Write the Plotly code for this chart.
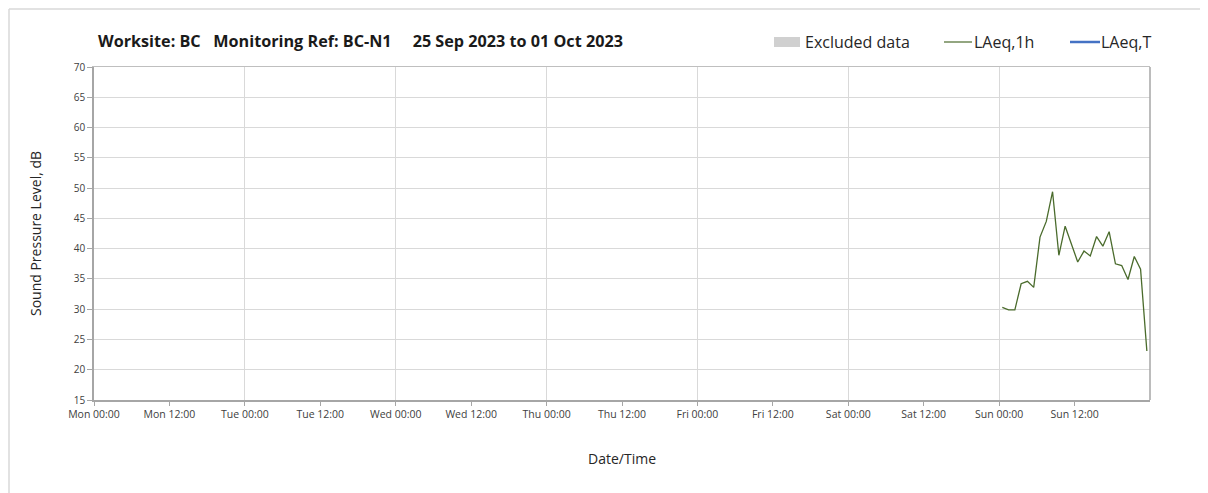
import plotly.graph_objects as go
import pandas as pd

# ---- data ----
hours = [f"2023-10-01 {h:02d}:30" for h in range(24)]
laeq_1h = [30.3, 29.9, 29.9, 34.2, 34.6, 33.6, 41.9, 44.5, 49.4, 38.9, 43.7, 40.6,
           37.8, 39.6, 38.8, 42.0, 40.4, 42.8, 37.5, 37.2, 34.9, 38.7, 36.6, 23.1]
x_start = "2023-09-25 00:00"
x_end = "2023-10-02 00:00"
y_min, y_max, y_step = 15, 70, 5
title_text = "Worksite: BC   Monitoring Ref: BC-N1     25 Sep 2023 to 01 Oct 2023"
legend_labels = ["Excluded data", "LAeq,1h", "LAeq,T"]
x_title = "Date/Time"
y_title = "Sound Pressure Level, dB"

OFF = 8  # page body margin
W, H = 1208, 493
SX0, SX1, SY0, SY1 = 94, 1150, 67, 400
L, T = SX0 - OFF, SY0 - OFF
pw, ph = SX1 - SX0, SY1 - SY0
R = W - L - pw
B = H - T - ph

def px(x):
    return (x - SX0) / pw

def py(y):
    return (SY1 - y) / ph

tickvals = pd.date_range(x_start, periods=14, freq="12h")

fig = go.Figure()
fig.add_trace(go.Scatter(x=pd.to_datetime(hours), y=laeq_1h, mode="lines",
                         line=dict(color="#4a6b2c", width=1.3), showlegend=False,
                         hoverinfo="x+y"))
fig.add_trace(go.Scatter(x=[None], y=[None], mode="lines",
                         line=dict(color="#4472c4", width=2.5), showlegend=False))
fig.add_trace(go.Scatter(x=[None], y=[None], xaxis="x2", showlegend=False))

tickfont = dict(family="Open Sans, DejaVu Sans", size=10, color="#404040")
xtickfont = dict(family="Open Sans, DejaVu Sans", size=10.5, color="#404040")

fig.update_layout(
    width=W, height=H,
    margin=dict(l=L, r=R, t=T, b=B),
    plot_bgcolor="white", paper_bgcolor="white",
    xaxis=dict(type="date", range=[x_start, x_end], tickvals=tickvals,
               tickformat="%a %H:%M", showgrid=False,
               ticks="outside", ticklen=4, tickcolor="#a6a6a6",
               showline=True, linecolor="#a6a6a6", linewidth=1.5,
               tickfont=xtickfont, zeroline=False,
               title=dict(text=x_title, font=dict(family="Open Sans, DejaVu Sans", size=14, color="#262626"),
                          standoff=34)),
    xaxis2=dict(type="date", range=[x_start, x_end], dtick=24 * 3600 * 1000,
                tick0=x_start, overlaying="x", showgrid=True, gridcolor="#d9d9d9",
                showticklabels=False, ticks="", showline=True, linecolor="#bfbfbf",
                side="top", zeroline=False),
    yaxis=dict(range=[y_min, y_max], dtick=y_step, tick0=y_min, showgrid=True,
               gridcolor="#d9d9d9", ticks="outside", ticklen=5, tickcolor="#a6a6a6",
               showline=True, linecolor="#a6a6a6", linewidth=1.5,
               tickfont=tickfont, zeroline=False,
               title=dict(text=y_title, font=dict(family="Open Sans, DejaVu Sans", size=14, color="#262626"),
                          standoff=29)),
    showlegend=False,
)

shapes = []
shapes.append(dict(type="line", xref="paper", yref="paper", x0=1, x1=1, y0=0, y1=1,
                   line=dict(color="#a6a6a6", width=1.5)))
# outer frame (as close to the page edge as the page margin allows)
shapes.append(dict(type="line", xref="paper", yref="paper", x0=px(9), x1=px(W + 20), y0=py(9), y1=py(9),
                   line=dict(color="#d9d9d9", width=1.5)))
shapes.append(dict(type="line", xref="paper", yref="paper", x0=px(9), x1=px(9), y0=py(9), y1=py(H + 20),
                   line=dict(color="#d9d9d9", width=1.5)))
leg_y = py(42)
shapes.append(dict(type="rect", xref="paper", yref="paper", x0=px(774), x1=px(800), y0=py(37), y1=py(47),
                   fillcolor="#d0d0d0", line=dict(width=0)))
shapes.append(dict(type="line", xref="paper", yref="paper", x0=px(944), x1=px(972), y0=leg_y, y1=leg_y,
                   line=dict(color="#4a6b2c", width=1.2)))
shapes.append(dict(type="line", xref="paper", yref="paper", x0=px(1070), x1=px(1100), y0=leg_y, y1=leg_y,
                   line=dict(color="#4472c4", width=2.5)))
fig.update_layout(shapes=shapes)

legfont = dict(family="Open Sans, DejaVu Sans", size=16, color="#262626")
ann = [
    dict(text=f"<b>{title_text}</b>", x=px(96), y=py(41), xref="paper", yref="paper",
         xanchor="left", yanchor="middle", showarrow=False,
         font=dict(family="Open Sans, DejaVu Sans", size=16.2, color="#1a1a1a")),
    dict(text=legend_labels[0], x=px(803), y=leg_y, xref="paper", yref="paper",
         xanchor="left", yanchor="middle", showarrow=False, font=legfont),
    dict(text=legend_labels[1], x=px(972), y=leg_y, xref="paper", yref="paper",
         xanchor="left", yanchor="middle", showarrow=False, font=legfont),
    dict(text=legend_labels[2], x=px(1099), y=leg_y, xref="paper", yref="paper",
         xanchor="left", yanchor="middle", showarrow=False, font=legfont),
]
fig.update_layout(annotations=ann)

fig.write_html("out.html")
